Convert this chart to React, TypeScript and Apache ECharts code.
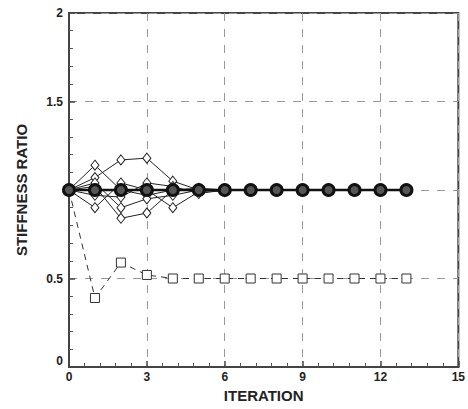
import React, { useEffect, useRef } from "react";
import * as echarts from "echarts";

const iterations = [0, 1, 2, 3, 4, 5, 6, 7, 8, 9, 10, 11, 12, 13];
const diamondIters = [0, 1, 2, 3, 4, 5, 6];
const diamondA = [1, 1.14, 1.0, 0.97, 1.0, 1.0, 1.0];
const diamondB = [1, 1.07, 1.17, 1.18, 1.05, 1.0, 1.0];
const diamondC = [1, 0.9, 1.04, 1.0, 0.9, 0.99, 1.0];
const diamondD = [1, 1.02, 0.84, 0.87, 1.0, 1.01, 1.0];
const diamondE = [1, 0.97, 0.96, 1.04, 1.02, 0.98, 1.0];
const diamondF = [1, 1.04, 0.9, 0.95, 0.97, 1.0, 0.99];
const circleValues = [1, 1, 1, 1, 1, 1, 1, 1, 1, 1, 1, 1, 1, 1];
const squareValues = [1, 0.39, 0.59, 0.52, 0.5, 0.5, 0.5, 0.5, 0.5, 0.5, 0.5, 0.5, 0.5, 0.5];
const yTickLabels: Record<string, string> = { "0": "0", "0.5": "0.5", "1": "", "1.5": "1.5", "2": "2" };

const pair = (xs: number[], ys: number[]) => xs.map((x, i) => [x, ys[i]]);

export default function App() {
  const ref = useRef<HTMLDivElement>(null);
  useEffect(() => {
    if (!ref.current) return;
    const chart = echarts.init(ref.current, undefined, { renderer: "svg" });
    const font = "Liberation Sans";
    const diamonds = [diamondA, diamondB, diamondC, diamondD, diamondE, diamondF].map((d) => ({
      type: "line",
      data: pair(diamondIters, d),
      symbol: "diamond",
      symbolSize: [8, 10],
      showAllSymbol: true,
      lineStyle: { color: "#222", width: 1 },
      itemStyle: { color: "#fff", borderColor: "#222", borderWidth: 1 },
      z: 3,
    }));
    chart.setOption({
      animation: false,
      backgroundColor: "#fff",
      grid: {
        left: 69,
        right: 8,
        top: 13,
        bottom: 42,
        show: true,
        borderColor: "#444",
        borderWidth: 2,
      },
      xAxis: {
        type: "value",
        min: 0,
        max: 15,
        interval: 3,
        name: "ITERATION",
        nameLocation: "middle",
        nameGap: 20,
        nameTextStyle: { fontFamily: font, fontWeight: "bold", fontSize: 15, color: "#222" },
        axisLine: { show: true, lineStyle: { color: "#444", width: 2 } },
        axisTick: { show: true, inside: true, length: 6, lineStyle: { color: "#444", width: 1.5 } },
        minorTick: { show: true, splitNumber: 5, length: 4, lineStyle: { color: "#555", width: 1 } },
        axisLabel: { fontFamily: font, fontWeight: "bold", fontSize: 12, color: "#222", margin: 4 },
        splitLine: { show: true, lineStyle: { color: "#999", type: [8, 8], width: 1 } },
      },
      yAxis: {
        type: "value",
        min: 0,
        max: 2,
        interval: 0.5,
        name: "STIFFNESS RATIO",
        nameLocation: "middle",
        nameGap: 40,
        nameTextStyle: { fontFamily: font, fontWeight: "bold", fontSize: 15, color: "#222" },
        axisLine: { show: true, lineStyle: { color: "#444", width: 2 } },
        axisTick: { show: true, inside: true, length: 6, lineStyle: { color: "#444", width: 1.5 } },
        minorTick: { show: true, splitNumber: 5, length: 4, lineStyle: { color: "#555", width: 1 } },
        axisLabel: {
          fontFamily: font,
          fontWeight: "bold",
          fontSize: 12,
          color: "#222",
          margin: 6,
          verticalAlignMinLabel: "bottom",
          formatter: (v: number) => yTickLabels[String(v)] ?? String(v),
        },
        splitLine: { show: true, lineStyle: { color: "#999", type: [8, 8], width: 1 } },
      },
      series: [
        ...diamonds,
        {
          type: "line",
          data: pair(iterations, squareValues),
          symbol: "rect",
          symbolSize: 9,
          lineStyle: { color: "#333", width: 1, type: [6, 5] },
          itemStyle: { color: "#fff", borderColor: "#333", borderWidth: 1 },
          z: 4,
        },
        {
          type: "line",
          data: pair(iterations, circleValues),
          symbol: "circle",
          symbolSize: 11,
          lineStyle: { color: "#111", width: 2.5 },
          itemStyle: { color: "#555", borderColor: "#111", borderWidth: 3 },
          z: 6,
        },
      ],
    });
    return () => chart.dispose();
  }, []);
  return (
    <div
      ref={ref}
      style={{ position: "fixed", left: 0, top: 0, width: 468, height: 409, background: "#fff" }}
    />
  );
}
